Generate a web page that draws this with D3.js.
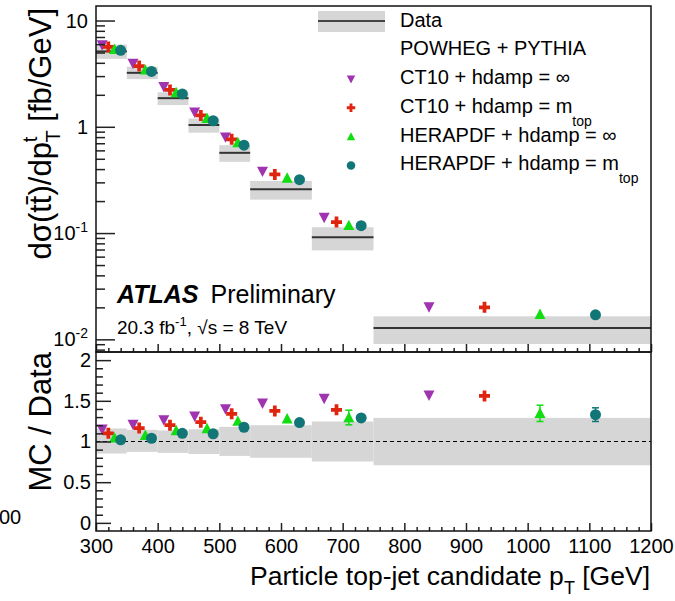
<!DOCTYPE html>
<html><head><meta charset="utf-8">
<script src="https://cdn.jsdelivr.net/npm/d3@7"></script>
<style>
body{margin:0;background:#fff}
svg{display:block}
text{font-family:"Liberation Sans",Arial,Helvetica,sans-serif;fill:#000}
</style>
</head><body>
<svg id="c" width="675" height="601"></svg>
<script>
// ---------- data ----------
const binEdges = [300, 350, 400, 450, 500, 550, 650, 750, 1200];
const dataXsec = [5.12, 3.22, 1.86, 1.04, 0.569, 0.258, 0.0911, 0.01277];
const dataRelUp = [1.16, 1.143, 1.135, 1.15, 1.18, 1.20, 1.246, 1.29];
const dataRelDown = [0.852, 0.872, 0.86, 0.847, 0.823, 0.80, 0.754, 0.708];

const ct10InfXsec = [5.90, 3.95, 2.38, 1.37, 0.80, 0.381, 0.140, 0.0202];
const ct10MtopXsec = [5.64, 3.73, 2.22, 1.28, 0.762, 0.356, 0.127, 0.0200];
const heraInfXsec = [5.36, 3.43, 2.10, 1.20, 0.712, 0.329, 0.118, 0.0172];
const heraMtopXsec = [5.24, 3.32, 2.04, 1.14, 0.671, 0.318, 0.1173, 0.0170];

const ct10InfRatio = [1.15, 1.21, 1.265, 1.31, 1.40, 1.47, 1.53, 1.57];
const ct10MtopRatio = [1.10, 1.165, 1.20, 1.237, 1.34, 1.375, 1.39, 1.56];
const heraInfRatio = [1.045, 1.075, 1.135, 1.16, 1.25, 1.28, 1.295, 1.346];
const heraMtopRatio = [1.02, 1.04, 1.10, 1.095, 1.175, 1.232, 1.29, 1.33];

const ct10InfRatioErr = [0, 0, 0, 0, 0, 0, 0, 0];
const ct10MtopRatioErr = [0, 0, 0, 0, 0, 0, 0, 0];
const heraInfRatioErr = [0, 0, 0, 0, 0, 0, 0.09, 0.10];
const heraMtopRatioErr = [0, 0, 0, 0, 0, 0, 0.04, 0.084];

const xTickValues = [300, 400, 500, 600, 700, 800, 900, 1000, 1100, 1200];
const ratioTickValues = [0, 0.5, 1, 1.5, 2];
const logTickLabels = [{v: 10, b: "10", e: ""}, {v: 1, b: "1", e: ""}, {v: 0.1, b: "10", e: "-1"}, {v: 0.01, b: "10", e: "-2"}];

const series = [
  {name: "CT10 + hdamp = ", tail: "∞", sub: "", color: "#a033b0", shape: "tdown", xsec: ct10InfXsec, ratio: ct10InfRatio, err: ct10InfRatioErr, frac: 0.2},
  {name: "CT10 + hdamp = m", tail: "", sub: "top", color: "#e0250f", shape: "cross", xsec: ct10MtopXsec, ratio: ct10MtopRatio, err: ct10MtopRatioErr, frac: 0.4},
  {name: "HERAPDF + hdamp = ", tail: "∞", sub: "", color: "#11dd11", shape: "tup", xsec: heraInfXsec, ratio: heraInfRatio, err: heraInfRatioErr, frac: 0.6},
  {name: "HERAPDF + hdamp = m", tail: "", sub: "top", color: "#127676", shape: "circle", xsec: heraMtopXsec, ratio: heraMtopRatio, err: heraMtopRatioErr, frac: 0.8}
];

// ---------- layout ----------
const L = 96, R = 651, T = 6, M = 352, B = 531;
const svg = d3.select("#c");
const x = d3.scaleLinear().domain([300, 1200]).range([L, R]);
const yTop = d3.scaleLog().domain([0.0076, 13.7]).range([M, T]);
const yRat = d3.scaleLinear().domain([-0.1, 2.1]).range([B, M]);

const bins = dataXsec.map((v, i) => ({lo: binEdges[i], hi: binEdges[i + 1], v, up: dataRelUp[i], dn: dataRelDown[i]}));
const gray = "#d6d6d6";
const MS = 11;

function markerPath(type, s) {
  const h = s / 2;
  if (type === "tdown") return `M${-h},${-h * 0.85}L${h},${-h * 0.85}L0,${h * 1.05}Z`;
  if (type === "tup") return `M${-h},${h * 0.85}L${h},${h * 0.85}L0,${-h * 1.05}Z`;
  if (type === "cross") {
    const a = h, b = s * 0.17;
    return `M${-b},${-a}H${b}V${-b}H${a}V${b}H${b}V${a}H${-b}V${b}H${-a}V${-b}H${-b}Z`;
  }
  return d3.symbol(d3.symbolCircle, Math.PI * h * h)();
}

// ---------- top panel ----------
const gTop = svg.append("g");
gTop.selectAll("rect.band").data(bins).join("rect")
  .attr("x", d => x(d.lo)).attr("width", d => x(d.hi) - x(d.lo))
  .attr("y", d => yTop(d.v * d.up)).attr("height", d => yTop(d.v * d.dn) - yTop(d.v * d.up))
  .attr("fill", gray);
gTop.selectAll("line.dat").data(bins).join("line")
  .attr("x1", d => x(d.lo)).attr("x2", d => x(d.hi))
  .attr("y1", d => yTop(d.v)).attr("y2", d => yTop(d.v))
  .attr("stroke", "#333").attr("stroke-width", 2);

series.forEach(s => {
  gTop.selectAll(null).data(s.xsec).join("path")
    .attr("d", markerPath(s.shape, MS))
    .attr("transform", (v, i) => `translate(${x(binEdges[i] + s.frac * (binEdges[i + 1] - binEdges[i]))},${yTop(v)})`)
    .attr("fill", s.color);
});

// ---------- ratio panel ----------
const gRat = svg.append("g");
gRat.selectAll("rect.band").data(bins).join("rect")
  .attr("x", d => x(d.lo)).attr("width", d => x(d.hi) - x(d.lo))
  .attr("y", d => yRat(d.up)).attr("height", d => yRat(d.dn) - yRat(d.up))
  .attr("fill", gray);
gRat.append("line").attr("x1", L).attr("x2", R).attr("y1", yRat(1)).attr("y2", yRat(1))
  .attr("stroke", "#000").attr("stroke-width", 1).attr("stroke-dasharray", "4,3");

series.forEach(s => {
  const pts = s.ratio.map((r, i) => ({r, e: s.err[i], xv: binEdges[i] + s.frac * (binEdges[i + 1] - binEdges[i])}));
  const eb = pts.filter(p => p.e > 0);
  gRat.selectAll(null).data(eb).join("line")
    .attr("x1", p => x(p.xv)).attr("x2", p => x(p.xv))
    .attr("y1", p => yRat(p.r - p.e)).attr("y2", p => yRat(p.r + p.e))
    .attr("stroke", s.color).attr("stroke-width", 1.5);
  [-1, 1].forEach(sg => {
    gRat.selectAll(null).data(eb).join("line")
      .attr("x1", p => x(p.xv) - 3.5).attr("x2", p => x(p.xv) + 3.5)
      .attr("y1", p => yRat(p.r + sg * p.e)).attr("y2", p => yRat(p.r + sg * p.e))
      .attr("stroke", s.color).attr("stroke-width", 1.5);
  });
  gRat.selectAll(null).data(pts).join("path")
    .attr("d", markerPath(s.shape, MS))
    .attr("transform", p => `translate(${x(p.xv)},${yRat(p.r)})`)
    .attr("fill", s.color);
});

// ---------- axes ----------
const axCol = "#222";
function styleAxis(g) {
  g.select(".domain").remove();
  g.selectAll(".tick line").attr("stroke", axCol).attr("stroke-width", 1.5);
  g.selectAll("text").attr("font-size", 20).attr("font-family", '"Liberation Sans",Arial,sans-serif').attr("fill", "#000");
}
const minorX = d3.range(300, 1201, 20).filter(v => v % 100 !== 0);
svg.append("g").attr("transform", `translate(0,${M})`)
  .call(d3.axisBottom(x).tickValues(xTickValues).tickSize(-8).tickFormat(""))
  .call(styleAxis);
svg.append("g").attr("transform", `translate(0,${M})`)
  .call(d3.axisBottom(x).tickValues(minorX).tickSize(-4).tickFormat(""))
  .call(styleAxis);
svg.append("g").attr("transform", `translate(0,${B})`)
  .call(d3.axisBottom(x).tickValues(xTickValues).tickSize(-8).tickPadding(8).tickFormat(d3.format("d")))
  .call(styleAxis);
svg.append("g").attr("transform", `translate(0,${B})`)
  .call(d3.axisBottom(x).tickValues(minorX).tickSize(-4).tickFormat(""))
  .call(styleAxis);

// log y ticks
const majorLog = [0.01, 0.1, 1, 10];
const minorLog = [];
[0.001, 0.01, 0.1, 1, 10].forEach(dec => { for (let k = 2; k <= 9; k++) { const v = dec * k; if (v >= 0.0076 && v <= 13.7) minorLog.push(v); } });
svg.append("g").attr("transform", `translate(${L},0)`)
  .call(d3.axisLeft(yTop).tickValues(majorLog).tickSize(-19).tickFormat(""))
  .call(styleAxis);
svg.append("g").attr("transform", `translate(${L},0)`)
  .call(d3.axisLeft(yTop).tickValues(minorLog).tickSize(-9).tickFormat(""))
  .call(styleAxis);
const logLab = svg.append("g");
logTickLabels.forEach(t => {
  const tx = logLab.append("text").attr("x", 88).attr("y", yTop(t.v) + 7).attr("text-anchor", "end").attr("font-size", 20);
  tx.append("tspan").text(t.b);
  if (t.e) tx.append("tspan").attr("font-size", 14).attr("dy", -8).text(t.e);
});

// ratio y ticks
const minorR = d3.range(0, 21).map(k => k / 10).filter(v => Math.abs(v * 2 - Math.round(v * 2)) > 1e-6);
svg.append("g").attr("transform", `translate(${L},0)`)
  .call(d3.axisLeft(yRat).tickValues(ratioTickValues).tickSize(-15).tickPadding(5).tickFormat(d3.format("")))
  .call(styleAxis);
svg.append("g").attr("transform", `translate(${L},0)`)
  .call(d3.axisLeft(yRat).tickValues(minorR).tickSize(-7).tickFormat(""))
  .call(styleAxis);

// frames
svg.append("rect").attr("x", L).attr("y", T).attr("width", R - L).attr("height", M - T)
  .attr("fill", "none").attr("stroke", "#111").attr("stroke-width", 1.5);
svg.append("rect").attr("x", L).attr("y", M).attr("width", R - L).attr("height", B - M)
  .attr("fill", "none").attr("stroke", "#111").attr("stroke-width", 1.5);

// ---------- titles ----------
const yt = svg.append("text").attr("transform", `translate(51,8) rotate(-90)`).attr("text-anchor", "end").attr("font-size", 31);
yt.append("tspan").text("dσ(t");
yt.append("tspan").text("t\u0304");
yt.append("tspan").text(")/dp");
yt.append("tspan").attr("font-size", 20).attr("dy", -14).text("t");
yt.append("tspan").attr("font-size", 20).attr("dx", -6).attr("dy", 23).text("T");
yt.append("tspan").attr("dy", -9).text(" [fb/GeV]");

svg.append("text").attr("transform", `translate(51,352) rotate(-90)`).attr("text-anchor", "end").attr("font-size", 31).text("MC / Data");

const xt = svg.append("text").attr("x", 650).attr("y", 585).attr("text-anchor", "end").attr("font-size", 26.5);
xt.append("tspan").text("Particle top-jet candidate p");
xt.append("tspan").attr("font-size", 18).attr("dy", 9).text("T");
xt.append("tspan").attr("dy", -9).text(" [GeV]");

svg.append("text").attr("x", -1).attr("y", 524).attr("font-size", 20).text("00");

// ATLAS label
const at = svg.append("text").attr("x", 117).attr("y", 303).attr("font-size", 25);
at.append("tspan").attr("font-weight", "bold").attr("font-style", "italic").text("ATLAS");
at.append("tspan").attr("dx", 12).text("Preliminary");
const lum = svg.append("text").attr("x", 117).attr("y", 334).attr("font-size", 19);
lum.append("tspan").text("20.3 fb");
lum.append("tspan").attr("font-size", 13).attr("dy", -8).text("-1");
lum.append("tspan").attr("dy", 8).text(", √s = 8 TeV");

// ---------- legend ----------
const lg = svg.append("g");
lg.append("rect").attr("x", 318).attr("y", 11).attr("width", 67).attr("height", 21).attr("fill", gray);
lg.append("line").attr("x1", 318).attr("x2", 385).attr("y1", 21).attr("y2", 21).attr("stroke", "#444").attr("stroke-width", 2);
lg.append("text").attr("x", 400).attr("y", 27).attr("font-size", 20).text("Data");
lg.append("text").attr("x", 400).attr("y", 55).attr("font-size", 20).text("POWHEG + PYTHIA");
series.forEach((s, i) => {
  const yy = 84 + i * 28.8;
  lg.append("path").attr("d", markerPath(s.shape, 8.5)).attr("transform", `translate(351,${yy - 5})`).attr("fill", s.color);
  const t = lg.append("text").attr("x", 400).attr("y", yy).attr("font-size", 20);
  t.append("tspan").text(s.name);
  if (s.tail) t.append("tspan").text(s.tail);
  if (s.sub) t.append("tspan").attr("font-size", 14).attr("dy", 13).text(s.sub);
});
</script>
</body></html>
